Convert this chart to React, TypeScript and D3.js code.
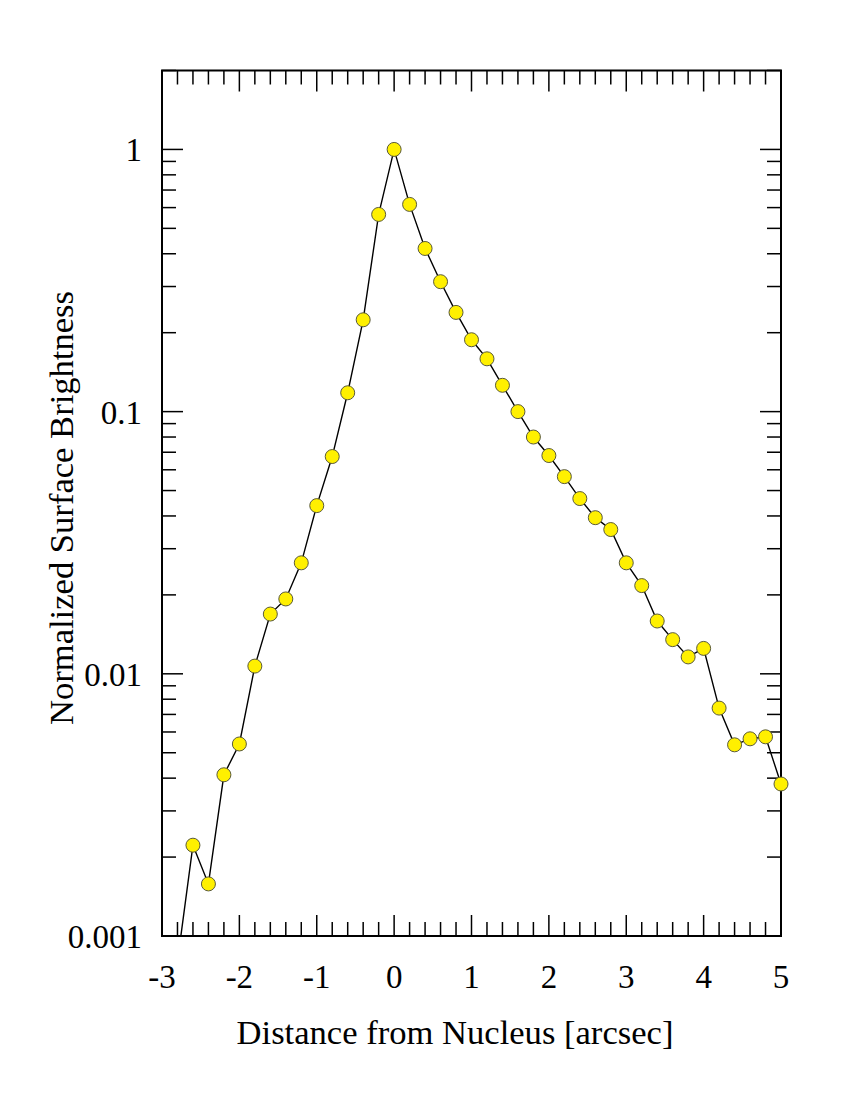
import React from "react";
import * as d3 from "d3";

const distances = [-2.8, -2.6, -2.4, -2.2, -2.0, -1.8, -1.6, -1.4, -1.2, -1.0, -0.8, -0.6, -0.4, -0.2, 0, 0.2, 0.4, 0.6, 0.8, 1.0, 1.2, 1.4, 1.6, 1.8, 2.0, 2.2, 2.4, 2.6, 2.8, 3.0, 3.2, 3.4, 3.6, 3.8, 4.0, 4.2, 4.4, 4.6, 4.8, 5.0];
const brightness = [0.0008, 0.00222, 0.00158, 0.00412, 0.0054, 0.0107, 0.0169, 0.0193, 0.0265, 0.0438, 0.0674, 0.118, 0.224, 0.565, 1.0, 0.617, 0.419, 0.313, 0.239, 0.188, 0.159, 0.126, 0.1, 0.08, 0.068, 0.0565, 0.0466, 0.0394, 0.0355, 0.0265, 0.0217, 0.0159, 0.0135, 0.0116, 0.0125, 0.0074, 0.00536, 0.00565, 0.00575, 0.0038];
const xTickValues = [-3, -2, -1, 0, 1, 2, 3, 4, 5];
const yTickValues = [1, 0.1, 0.01, 0.001];
const yTickLabels = ["1", "0.1", "0.01", "0.001"];
const xTitle = "Distance from Nucleus [arcsec]";
const yTitle = "Normalized Surface Brightness";

export default function App() {
  const W = 859, H = 1112;
  const L = 162, R = 781, T = 70.5, B = 936;
  const x = d3.scaleLinear().domain([-3, 5]).range([L, R]);
  const y = d3.scaleLog().domain([0.001, 2]).range([B, T]);
  const font = "'Liberation Serif', 'Times New Roman', serif";

  const xMinor = d3.range(-3, 5.0001, 0.2).map(v => Math.round(v * 10) / 10);
  const yMinor: number[] = [];
  for (const dec of [0.001, 0.01, 0.1, 1]) {
    for (let k = 2; k <= 9; k++) {
      const v = dec * k;
      if (v <= 2.0001) yMinor.push(v);
    }
  }
  const data = distances.map((d, i) => ({ d, v: brightness[i] }));
  const line = d3.line<{ d: number; v: number }>().x(p => x(p.d)).y(p => y(p.v));
  const majorLen = 21, minorLen = 14;
  const tickStroke = "#000";
  const sw = 1.5;

  return (
    <svg width={W} height={H} style={{ position: "absolute", left: 0, top: 0, background: "#fff" }}>
      <defs>
        <clipPath id="plotclip">
          <rect x={L} y={T} width={R - L} height={B - T} />
        </clipPath>
      </defs>
      {xMinor.map((v, i) => {
        const major = xTickValues.some(t => Math.abs(t - v) < 1e-6);
        const len = major ? majorLen : minorLen;
        return (
          <g key={"xt" + i} stroke={tickStroke} strokeWidth={sw}>
            <line x1={x(v)} x2={x(v)} y1={B} y2={B - len} />
            <line x1={x(v)} x2={x(v)} y1={T} y2={T + len} />
          </g>
        );
      })}
      {yTickValues.map((v, i) => (
        <g key={"ym" + i} stroke={tickStroke} strokeWidth={sw}>
          <line x1={L} x2={L + majorLen} y1={y(v)} y2={y(v)} />
          <line x1={R} x2={R - majorLen} y1={y(v)} y2={y(v)} />
        </g>
      ))}
      {yMinor.map((v, i) => (
        <g key={"yn" + i} stroke={tickStroke} strokeWidth={sw}>
          <line x1={L} x2={L + minorLen} y1={y(v)} y2={y(v)} />
          <line x1={R} x2={R - minorLen} y1={y(v)} y2={y(v)} />
        </g>
      ))}
      <rect x={L} y={T} width={R - L} height={B - T} fill="none" stroke="#000" strokeWidth={2} />
      <path d={line(data) || ""} fill="none" stroke="#000" strokeWidth={1.4} clipPath="url(#plotclip)" />
      {data.filter(p => p.v >= 0.001 && p.v <= 2).map((p, i) => (
        <circle key={"pt" + i} cx={x(p.d)} cy={y(p.v)} r={7} fill="#FFF000" stroke="#5a5a3a" strokeWidth={1} />
      ))}
      {xTickValues.map((v, i) => (
        <text key={"xl" + i} x={x(v)} y={988} textAnchor="middle" fontFamily={font} fontSize={33} fill="#000">
          {v}
        </text>
      ))}
      {yTickValues.map((v, i) => (
        <text key={"yl" + i} x={142} y={y(v) + 12} textAnchor="end" fontFamily={font} fontSize={33} fill="#000">
          {yTickLabels[i]}
        </text>
      ))}
      <text x={455} y={1044} textAnchor="middle" fontFamily={font} fontSize={34.6} fill="#000">
        {xTitle}
      </text>
      <text transform={`translate(73,508) rotate(-90)`} textAnchor="middle" fontFamily={font} fontSize={34.6} fill="#000">
        {yTitle}
      </text>
    </svg>
  );
}
